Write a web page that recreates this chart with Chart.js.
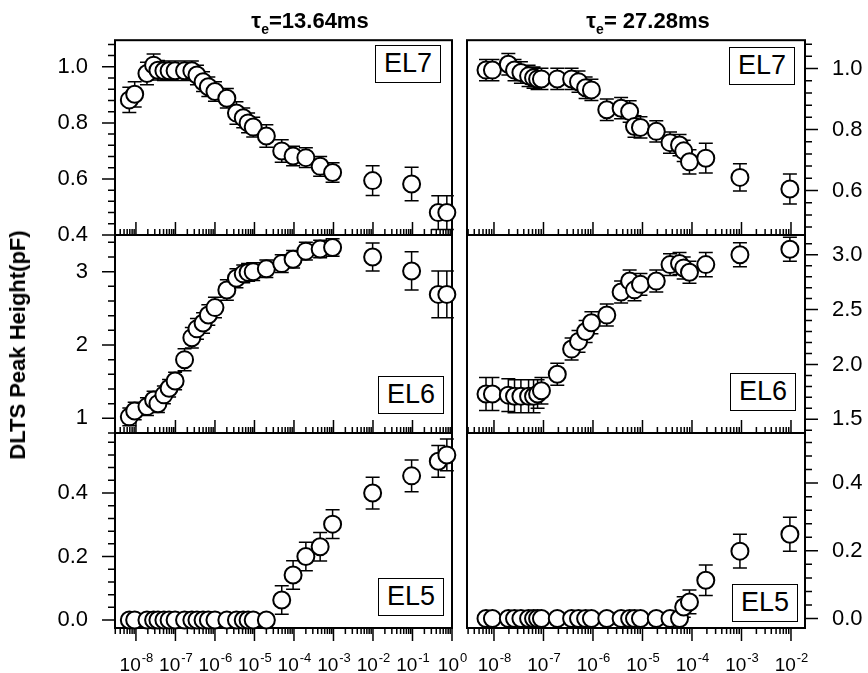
<!DOCTYPE html>
<html>
<head>
<meta charset="utf-8">
<script src="https://cdn.jsdelivr.net/npm/chart.js@4.4.0/dist/chart.umd.min.js"></script>
<style>
body { margin: 0; background: #fff; }
#wrap { position: relative; width: 868px; height: 673px; font-family: "Liberation Sans", Arial, sans-serif; color: #000; }
#wrap canvas { position: absolute; left: 0; top: 0; }
.lbl { position: absolute; box-sizing: border-box; border: 1.5px solid #000; background: #fff; font-size: 27px; text-align: center; }
.ttl { position: absolute; transform: translateX(-50%); font-weight: bold; font-size: 22px; white-space: nowrap; }
.ttl .sub { position: relative; top: 6px; font-size: 14px; }
#ytitle { position: absolute; left: 18px; top: 345px; transform: translate(-50%, -50%) rotate(-90deg); font-weight: bold; font-size: 22px; white-space: nowrap; }
</style>
</head>
<body>
<div id="wrap">
  <canvas id="c0" width="868" height="673"></canvas>
  <canvas id="c1" width="868" height="673"></canvas>
  <canvas id="c2" width="868" height="673"></canvas>
  <canvas id="c3" width="868" height="673"></canvas>
  <canvas id="c4" width="868" height="673"></canvas>
  <canvas id="c5" width="868" height="673"></canvas>

  <div class="ttl" style="left:310px; top:8px">τ<span class="sub">e</span>=13.64ms</div>
  <div class="ttl" style="left:648px; top:8px">τ<span class="sub">e</span>= 27.28ms</div>
  <div id="ytitle">DLTS Peak Height(pF)</div>

  <div class="lbl" style="left:375px; top:45px; width:66px; height:38px; line-height:35px">EL7</div>
  <div class="lbl" style="left:729px; top:47px; width:66px; height:38px; line-height:35px">EL7</div>
  <div class="lbl" style="left:378px; top:376px; width:66px; height:38px; line-height:35px">EL6</div>
  <div class="lbl" style="left:730px; top:373px; width:66px; height:38px; line-height:35px">EL6</div>
  <div class="lbl" style="left:378px; top:578px; width:66px; height:38px; line-height:35px">EL5</div>
  <div class="lbl" style="left:732px; top:584px; width:66px; height:38px; line-height:35px">EL5</div>
</div>

<script>
Chart.defaults.font.family = '"Liberation Sans", Arial, sans-serif';
Chart.defaults.color = '#000';

// x values, left column (tau_e = 13.64 ms)
const xLeft = [6.8e-9, 9.3e-9, 1.9e-8, 2.8e-8, 3.6e-8, 5.1e-8, 6.9e-8, 9.8e-8, 1.7e-7, 2.6e-7,
    3.5e-7, 5e-7, 6.8e-7, 1e-6, 2e-6, 3.5e-6, 5.2e-6, 6.9e-6, 9.3e-6, 2e-5,
    4.9e-5, 9.5e-5, 2e-4, 4.6e-4, 9.5e-4, 9.8e-3, 9.5e-2, 0.45, 0.74];
// x values, right column (tau_e = 27.28 ms)
const xRight = [6.9e-9, 9.3e-9, 1.95e-8, 2.6e-8, 3.5e-8, 5e-8, 6.3e-8, 7.6e-8, 9.1e-8, 1.9e-7,
    3.7e-7, 5.1e-7, 7.1e-7, 9.3e-7, 1.9e-6, 3.7e-6, 5.5e-6, 6.9e-6, 9.1e-6, 1.9e-5,
    3.6e-5, 5.6e-5, 6.8e-5, 8.9e-5, 1.9e-4, 9.3e-4, 9.5e-3];

// EL7
const el7Left = [0.882, 0.902, 0.976, 1.006, 0.988, 0.986, 0.986, 0.986, 0.986, 0.986,
    0.971, 0.947, 0.929, 0.912, 0.888, 0.835, 0.818, 0.80, 0.785, 0.753,
    0.70, 0.682, 0.676, 0.645, 0.623, 0.594, 0.582, 0.48, 0.48];
const el7LeftErr = [0.045, 0.045, 0.04, 0.04, 0.035, 0.035, 0.035, 0.035, 0.035, 0.035,
    0.035, 0.035, 0.035, 0.035, 0.035, 0.04, 0.035, 0.035, 0.035, 0.04,
    0.04, 0.035, 0.035, 0.035, 0.035, 0.053, 0.06, 0.06, 0.06];
const el7Right = [0.995, 0.995, 1.014, 0.995, 0.987, 0.976, 0.97, 0.966, 0.966, 0.966,
    0.966, 0.957, 0.937, 0.93, 0.865, 0.87, 0.859, 0.81, 0.807, 0.794,
    0.757, 0.749, 0.73, 0.694, 0.706, 0.643, 0.605];
const el7RightErr = [0.035, 0.035, 0.035, 0.035, 0.035, 0.035, 0.035, 0.035, 0.035, 0.035,
    0.035, 0.035, 0.035, 0.035, 0.035, 0.035, 0.035, 0.035, 0.035, 0.035,
    0.035, 0.035, 0.035, 0.04, 0.049, 0.045, 0.049];

// EL6
const el6Left = [1.02, 1.10, 1.16, 1.25, 1.20, 1.32, 1.41, 1.51, 1.80, 2.10,
    2.22, 2.30, 2.41, 2.51, 2.75, 2.91, 2.97, 2.99, 3.0, 3.04,
    3.11, 3.17, 3.28, 3.31, 3.33, 3.20, 3.01, 2.69, 2.69];
const el6LeftErr = [0.12, 0.12, 0.12, 0.12, 0.12, 0.12, 0.12, 0.12, 0.15, 0.14,
    0.14, 0.14, 0.14, 0.14, 0.14, 0.13, 0.12, 0.12, 0.12, 0.12,
    0.12, 0.12, 0.12, 0.12, 0.12, 0.19, 0.26, 0.32, 0.32];
const el6Right = [1.73, 1.73, 1.72, 1.71, 1.71, 1.71, 1.71, 1.73, 1.76, 1.91,
    2.14, 2.21, 2.30, 2.38, 2.45, 2.66, 2.76, 2.68, 2.73, 2.76,
    2.91, 2.92, 2.88, 2.84, 2.91, 3.0, 3.05];
const el6RightErr = [0.15, 0.15, 0.15, 0.15, 0.15, 0.15, 0.15, 0.13, 0.12, 0.1,
    0.1, 0.1, 0.1, 0.1, 0.1, 0.1, 0.1, 0.1, 0.1, 0.1,
    0.1, 0.1, 0.1, 0.1, 0.11, 0.11, 0.11];

// EL5
const el5Left = [0, 0, 0, 0, 0, 0, 0, 0, 0, 0,
    0, 0, 0, 0, 0, 0, 0, 0, 0, 0,
    0.063, 0.142, 0.20, 0.231, 0.302, 0.40, 0.454, 0.50, 0.52];
const el5LeftErr = [0, 0, 0, 0, 0, 0, 0, 0, 0, 0,
    0, 0, 0, 0, 0, 0, 0, 0, 0, 0,
    0.045, 0.045, 0.045, 0.045, 0.045, 0.05, 0.05, 0.05, 0.05];
const el5Right = [0, 0, 0, 0, 0, 0, 0, 0, 0, 0,
    0, 0, 0, 0, 0, 0, 0, 0, 0, 0,
    0, 0, 0.034, 0.049, 0.113, 0.199, 0.249];
const el5RightErr = [0, 0, 0, 0, 0, 0, 0, 0, 0, 0,
    0, 0, 0, 0, 0, 0, 0, 0, 0, 0,
    0, 0, 0.03, 0.035, 0.045, 0.05, 0.05];

// y tick labels
const el7LeftTicks = [0.4, 0.6, 0.8, 1.0];
const el7RightTicks = [0.6, 0.8, 1.0];
const el6LeftTicks = [1, 2, 3];
const el6RightTicks = [1.5, 2.0, 2.5, 3.0];
const el5Ticks = [0.0, 0.2, 0.4];

const W = 868, H = 673;

// error bars, frame, tick marks, x labels
const axesPlugin = {
    id: 'axes',
    beforeDatasetsDraw(chart) {
        const ctx = chart.ctx;
        const xs = chart.scales.x, ys = chart.scales.y;
        const a = chart.chartArea;
        const p = chart.options.panel;
        const ds = chart.data.datasets[0];

        ctx.save();
        ctx.strokeStyle = '#000';

        // frame
        ctx.lineWidth = 2;
        ctx.strokeRect(a.left, a.top, a.right - a.left, a.bottom - a.top);

        // x ticks (log decades)
        ctx.lineWidth = 1.5;
        ctx.beginPath();
        for (let d = Math.floor(Math.log10(xs.min)); d <= Math.ceil(Math.log10(xs.max)); d++) {
            for (let m = 1; m <= 9; m++) {
                const v = m * Math.pow(10, d);
                if (v < xs.min * 0.999 || v > xs.max * 1.001) continue;
                const px = xs.getPixelForValue(v);
                const len = m === 1 ? 13 : 6;
                ctx.moveTo(px, a.bottom);
                ctx.lineTo(px, a.bottom + p.xDir * len);
            }
        }
        // y ticks
        const step = p.minor;
        for (let k = Math.ceil(ys.min / step - 1e-6); k <= Math.floor(ys.max / step + 1e-6); k++) {
            const v = k * step;
            const major = p.majors.some(t => Math.abs(t - v) < 1e-6);
            const py = ys.getPixelForValue(v);
            const len = major ? 13 : 7;
            const x0 = p.side === 'left' ? a.left : a.right;
            const dir = p.side === 'left' ? -1 : 1;
            ctx.moveTo(x0, py);
            ctx.lineTo(x0 + dir * len, py);
        }
        ctx.stroke();

        // error bars
        ctx.lineWidth = 1.5;
        ctx.beginPath();
        ds.data.forEach((pt, i) => {
            const e = ds.errors[i];
            if (!e) return;
            const px = xs.getPixelForValue(pt.x);
            const yHi = ys.getPixelForValue(pt.y + e);
            const yLo = ys.getPixelForValue(pt.y - e);
            ctx.moveTo(px, yHi); ctx.lineTo(px, yLo);
            ctx.moveTo(px - 7, yHi); ctx.lineTo(px + 7, yHi);
            ctx.moveTo(px - 7, yLo); ctx.lineTo(px + 7, yLo);
        });
        ctx.stroke();

        // decade labels on the bottom row
        if (p.xLabels) {
            ctx.fillStyle = '#000';
            ctx.textBaseline = 'alphabetic';
            for (let d = Math.ceil(Math.log10(xs.min)); d <= Math.floor(Math.log10(xs.max) + 1e-9); d++) {
                const px = xs.getPixelForValue(Math.pow(10, d));
                ctx.font = '19px "Liberation Sans", Arial, sans-serif';
                const wBase = ctx.measureText('10').width;
                ctx.font = '13px "Liberation Sans", Arial, sans-serif';
                const exp = String(d);
                const wExp = ctx.measureText(exp).width;
                const x0 = px - (wBase + wExp) / 2;
                ctx.font = '19px "Liberation Sans", Arial, sans-serif';
                ctx.textAlign = 'left';
                ctx.fillText('10', x0, 671);
                ctx.font = '13px "Liberation Sans", Arial, sans-serif';
                ctx.fillText(exp, x0 + wBase + 1, 662);
            }
        }
        ctx.restore();
    }
};

function makePanel(id, p) {
    // the y axis box holds the tick labels; padding puts the plot frame at p.box
    const axisW = p.side === 'left' ? 80 : 60;
    const pad = {
        left: p.side === 'left' ? p.box[0] - axisW : p.box[0],
        top: p.box[1],
        right: p.side === 'right' ? W - p.box[2] - axisW : W - p.box[2],
        bottom: H - p.box[3]
    };
    new Chart(document.getElementById(id), {
        type: 'scatter',
        data: {
            datasets: [{
                data: p.x.map((x, i) => ({ x: x, y: p.y[i] })),
                errors: p.err,
                pointRadius: 8.5,
                pointHoverRadius: 8.5,
                pointBackgroundColor: '#fff',
                pointBorderColor: '#000',
                pointBorderWidth: 2,
                clip: false
            }]
        },
        options: {
            panel: p,
            responsive: false,
            animation: false,
            devicePixelRatio: 1,
            events: [],
            layout: { padding: pad },
            plugins: { legend: { display: false }, tooltip: { enabled: false } },
            scales: {
                x: { type: 'logarithmic', display: false, min: p.xMin, max: p.xMax },
                y: {
                    type: 'linear',
                    position: p.side,
                    min: p.yMin,
                    max: p.yMax,
                    afterBuildTicks: s => { s.ticks = p.majors.map(v => ({ value: v })); },
                    afterFit: s => { s.width = axisW; },
                    grid: { display: false, drawTicks: false },
                    border: { display: false },
                    ticks: {
                        autoSkip: false,
                        padding: 27,
                        font: { size: 22 },
                        callback: v => v.toFixed(p.dec)
                    }
                }
            }
        },
        plugins: [axesPlugin]
    });
}

const leftMin = Math.pow(10, -8.53), leftMax = 1;
const rightMin = Math.pow(10, -8.545), rightMax = Math.pow(10, -1.717);

makePanel('c0', { x: xLeft, y: el7Left, err: el7LeftErr, box: [115, 38, 452, 235],
    xMin: leftMin, xMax: leftMax, yMin: 0.4, yMax: 1.095, majors: el7LeftTicks, dec: 1, minor: 0.04,
    side: 'left', xDir: -1, xLabels: false });
makePanel('c1', { x: xRight, y: el7Right, err: el7RightErr, box: [467, 38, 805, 235],
    xMin: rightMin, xMax: rightMax, yMin: 0.454, yMax: 1.093, majors: el7RightTicks, dec: 1, minor: 0.04,
    side: 'right', xDir: -1, xLabels: false });
makePanel('c2', { x: xLeft, y: el6Left, err: el6LeftErr, box: [115, 235, 452, 433],
    xMin: leftMin, xMax: leftMax, yMin: 0.8, yMax: 3.5, majors: el6LeftTicks, dec: 0, minor: 0.2,
    side: 'left', xDir: -1, xLabels: false });
makePanel('c3', { x: xRight, y: el6Right, err: el6RightErr, box: [467, 235, 805, 433],
    xMin: rightMin, xMax: rightMax, yMin: 1.375, yMax: 3.18, majors: el6RightTicks, dec: 1, minor: 0.1,
    side: 'right', xDir: -1, xLabels: false });
makePanel('c4', { x: xLeft, y: el5Left, err: el5LeftErr, box: [115, 433, 452, 628],
    xMin: leftMin, xMax: leftMax, yMin: -0.025, yMax: 0.589, majors: el5Ticks, dec: 1, minor: 0.04,
    side: 'left', xDir: 1, xLabels: true });
makePanel('c5', { x: xRight, y: el5Right, err: el5RightErr, box: [467, 433, 805, 628],
    xMin: rightMin, xMax: rightMax, yMin: -0.028, yMax: 0.548, majors: el5Ticks, dec: 1, minor: 0.04,
    side: 'right', xDir: 1, xLabels: true });
</script>
</body>
</html>
